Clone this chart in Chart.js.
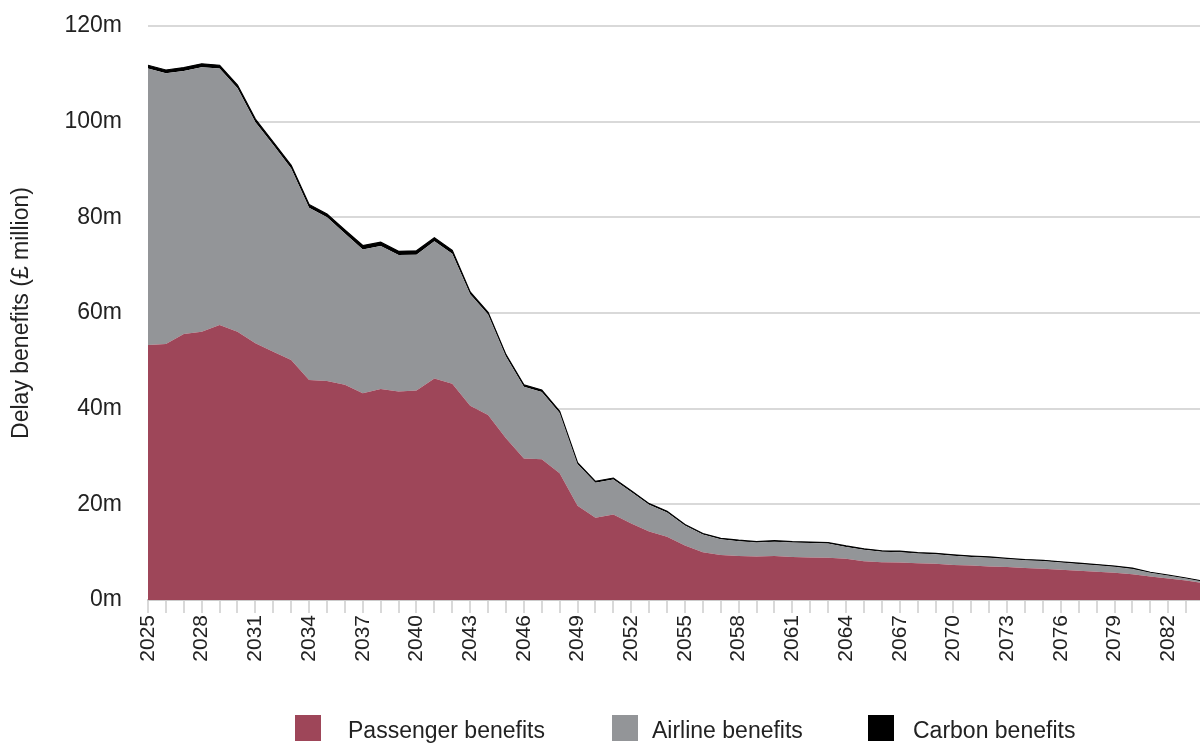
<!DOCTYPE html>
<html>
<head>
<meta charset="utf-8">
<script src="https://cdn.jsdelivr.net/npm/chart.js@4"></script>
<style>
  html, body { margin: 0; padding: 0; background: #fff; overflow: hidden; }
  #wrap { position: relative; width: 1200px; height: 745px; overflow: hidden; }
  #chart { position: absolute; left: 0; top: 0; }
  .key { position: absolute; top: 715px; width: 26px; height: 26px; }
  .keytext { position: absolute; top: 717px; height: 26px; line-height: 26px;
             font-family: "Liberation Sans", Arial, sans-serif; font-size: 23px; color: #222; white-space: nowrap; }
</style>
</head>
<body>
<div id="wrap">
  <canvas id="chart" width="1204" height="745"></canvas>
  <div class="key" style="left:295px;background:#9e4659"></div>
  <div class="keytext" style="left:348px">Passenger benefits</div>
  <div class="key" style="left:612px;background:#939598"></div>
  <div class="keytext" style="left:652px">Airline benefits</div>
  <div class="key" style="left:868px;background:#000"></div>
  <div class="keytext" style="left:913px">Carbon benefits</div>
</div>
<script>
// Years on the horizontal axis
const years = [
  2025, 2026, 2027, 2028, 2029, 2030, 2031, 2032, 2033, 2034,
  2035, 2036, 2037, 2038, 2039, 2040, 2041, 2042, 2043, 2044,
  2045, 2046, 2047, 2048, 2049, 2050, 2051, 2052, 2053, 2054,
  2055, 2056, 2057, 2058, 2059, 2060, 2061, 2062, 2063, 2064,
  2065, 2066, 2067, 2068, 2069, 2070, 2071, 2072, 2073, 2074,
  2075, 2076, 2077, 2078, 2079, 2080, 2081, 2082, 2083, 2084
];

// Delay benefits by year, £ million
const passengerBenefits = [
  53.3, 53.5, 55.6, 56.1, 57.5, 56.1, 53.7, 51.9, 50.2, 46.0,
  45.8, 45.0, 43.2, 44.1, 43.6, 43.8, 46.3, 45.2, 40.6, 38.7,
  33.8, 29.6, 29.4, 26.5, 19.7, 17.2, 17.9, 16.0, 14.3, 13.2,
  11.4, 10.0, 9.4, 9.2, 9.1, 9.2, 9.0, 8.9, 8.85, 8.6,
  8.1, 7.9, 7.85, 7.7, 7.6, 7.3, 7.2, 7.0, 6.9, 6.7,
  6.55, 6.35, 6.1, 5.9, 5.7, 5.4, 4.9, 4.5, 4.1, 3.5
];
const airlineBenefits = [
  57.8, 56.6, 55.0, 55.3, 53.6, 50.9, 46.2, 43.2, 40.0, 36.0,
  34.2, 31.6, 30.1, 29.9, 28.5, 28.4, 28.7, 27.2, 23.3, 21.0,
  17.1, 15.0, 14.1, 12.6, 8.7, 7.3, 7.3, 6.6, 5.6, 5.1,
  4.2, 3.7, 3.3, 3.1, 2.9, 3.0, 3.0, 3.0, 2.95, 2.5,
  2.4, 2.2, 2.15, 2.0, 1.95, 1.95, 1.8, 1.85, 1.65, 1.6,
  1.6, 1.5, 1.45, 1.35, 1.25, 1.1, 0.8, 0.6, 0.4, 0.3
];
const carbonBenefits = [
  0.7, 0.7, 0.7, 0.7, 0.7, 0.65, 0.65, 0.65, 0.65, 0.7,
  0.7, 0.75, 0.8, 0.8, 0.8, 0.8, 0.75, 0.7, 0.5, 0.45,
  0.4, 0.4, 0.4, 0.35, 0.3, 0.3, 0.3, 0.25, 0.25, 0.25,
  0.2, 0.2, 0.2, 0.2, 0.2, 0.2, 0.2, 0.2, 0.2, 0.2,
  0.2, 0.2, 0.2, 0.2, 0.2, 0.2, 0.2, 0.15, 0.15, 0.15,
  0.15, 0.15, 0.15, 0.15, 0.15, 0.15, 0.1, 0.1, 0.1, 0.1
];

// Axis tick values
const yTicks = [0, 20, 40, 60, 80, 100, 120];
const labelEvery = 3;

const FONT = '"Liberation Sans", Arial, sans-serif';
const TEXT = '#222';
const GRID = '#d9d9d9';

new Chart(document.getElementById('chart'), {
  type: 'line',
  data: {
    labels: years,
    datasets: [
      { label: 'Passenger benefits', data: passengerBenefits, backgroundColor: '#9e4659',
        borderWidth: 0, fill: 'origin', pointRadius: 0 },
      { label: 'Airline benefits', data: airlineBenefits, backgroundColor: '#939598',
        borderWidth: 0, fill: '-1', pointRadius: 0 },
      { label: 'Carbon benefits', data: carbonBenefits, backgroundColor: '#000',
        borderColor: '#000', borderWidth: 1.2, fill: '-1', pointRadius: 0 }
    ]
  },
  options: {
    responsive: false,
    animation: false,
    events: [],
    layout: { padding: { top: 26, left: 0, right: 0, bottom: 0 } },
    elements: { line: { tension: 0 } },
    plugins: { legend: { display: false }, tooltip: { enabled: false } },
    scales: {
      x: {
        type: 'category',
        offset: false,
        afterFit(scale) { scale.height = 145; scale.paddingLeft = 0; scale.paddingRight = 0; },
        grid: { drawOnChartArea: false, drawTicks: true, tickLength: 13, color: GRID, lineWidth: 2 },
        border: { display: true, color: '#cccccc', width: 2 },
        ticks: {
          autoSkip: false,
          minRotation: 90,
          maxRotation: 90,
          padding: 2,
          color: TEXT,
          font: { family: FONT, size: 21 },
          callback(value, index) { return index % labelEvery === 0 ? String(years[index]) : ''; }
        }
      },
      y: {
        stacked: true,
        min: yTicks[0],
        max: yTicks[yTicks.length - 1],
        afterFit(scale) { scale.width = 148; scale.paddingTop = 0; scale.paddingBottom = 0; },
        afterBuildTicks(scale) { scale.ticks = yTicks.map(v => ({ value: v })); },
        grid: { color: GRID, lineWidth: 2, drawTicks: false },
        border: { display: false },
        ticks: {
          padding: 26,
          color: TEXT,
          font: { family: FONT, size: 23 },
          callback(v) { return v + 'm'; }
        },
        title: {
          display: true,
          text: 'Delay benefits (£ million)',
          color: TEXT,
          font: { family: FONT, size: 23 },
          padding: { top: 8, bottom: 0 }
        }
      }
    }
  }
});
</script>
</body>
</html>
